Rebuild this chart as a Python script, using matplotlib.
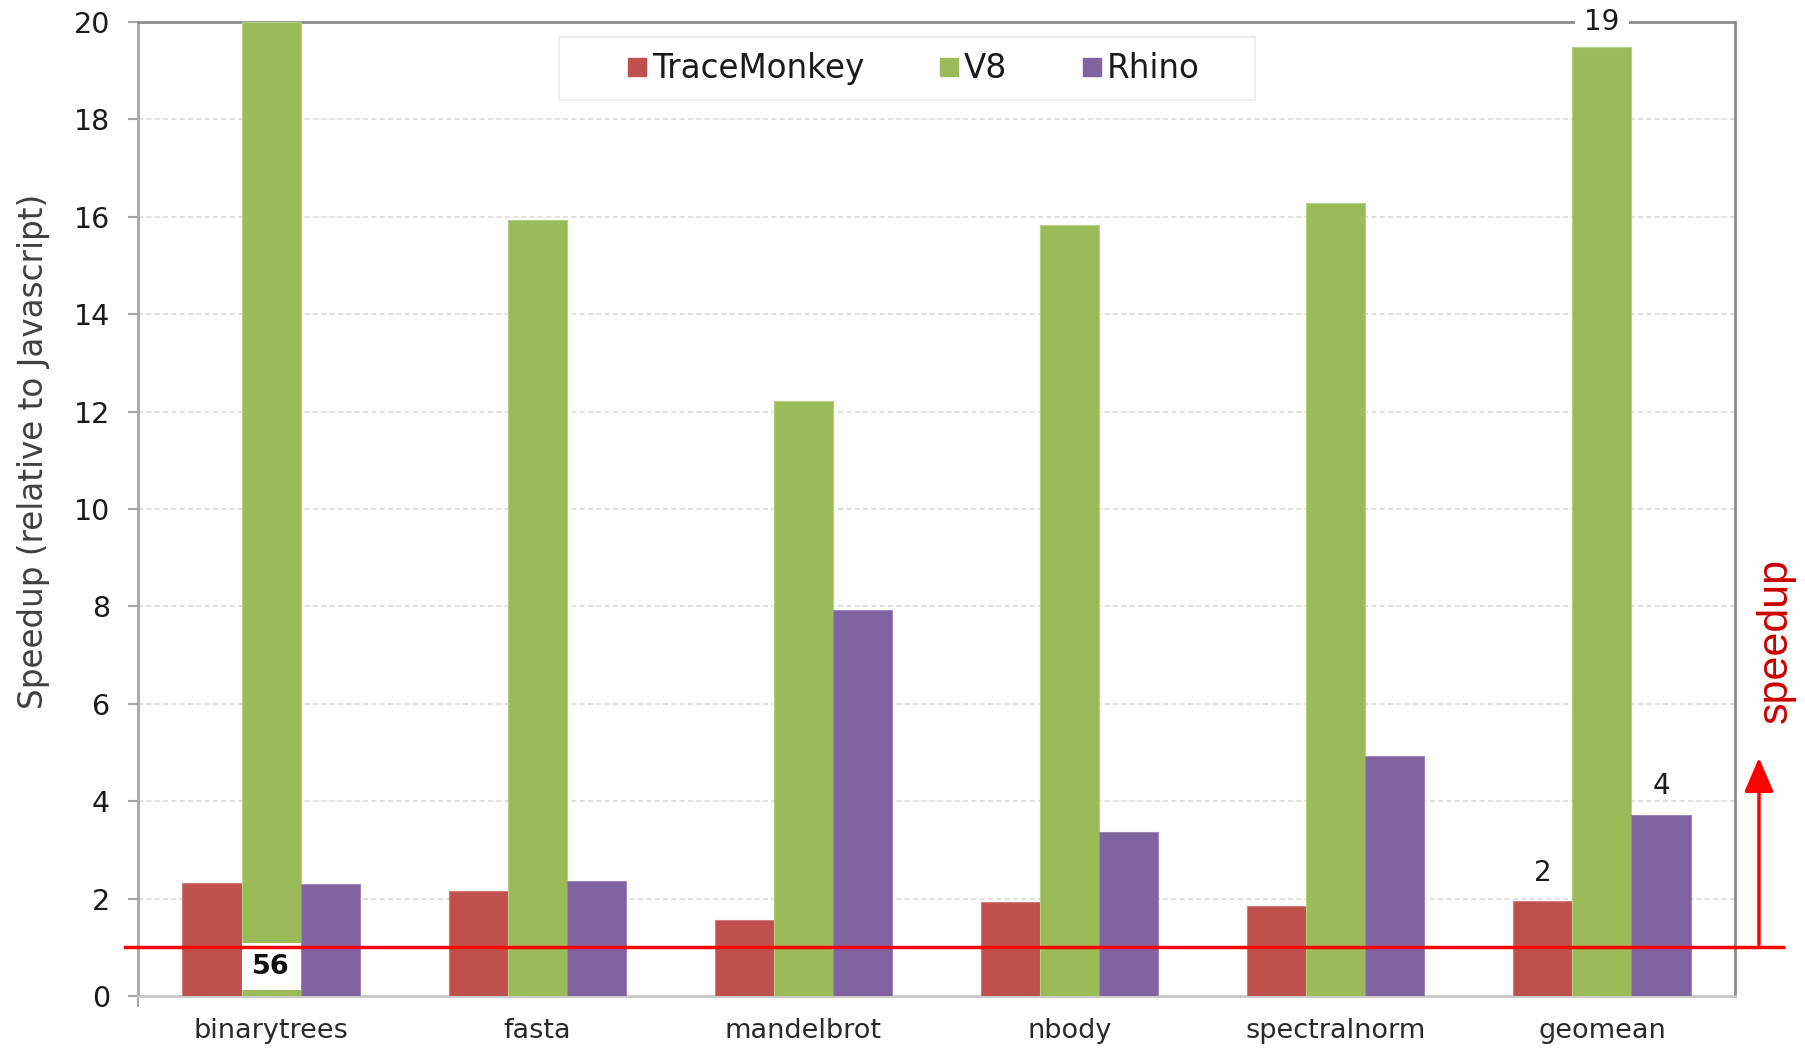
import matplotlib
matplotlib.use("Agg")
import matplotlib.pyplot as plt
import numpy as np
from matplotlib.patches import FancyArrowPatch, Rectangle
from matplotlib.lines import Line2D

# Benchmark speedups relative to plain Javascript
benchmarks = ["binarytrees", "fasta", "mandelbrot", "nbody", "spectralnorm", "geomean"]
tracemonkey = [2.32, 2.15, 1.56, 1.94, 1.84, 1.96]
v8 = [56.0, 15.93, 12.22, 15.84, 16.29, 19.48]
rhino = [2.29, 2.36, 7.92, 3.36, 4.92, 3.71]
series_names = ["TraceMonkey", "V8", "Rhino"]
yticks = [0, 2, 4, 6, 8, 10, 12, 14, 16, 18, 20]
baseline = 1.0

colors = ["#C0504D", "#9BBB59", "#8064A2"]
edge_colors = ["#D27B78", "#B5CF86", "#9C86B8"]

plt.rcParams["font.family"] = ["DejaVu Sans"]

fig = plt.figure(figsize=(18.06, 10.48), dpi=100)
ax = fig.add_axes([0.0764, 0.0496, 0.9607 - 0.0764, 0.979 - 0.0496])

ymax = 20
x = np.arange(len(benchmarks))
bw = 0.222
all_series = [tracemonkey, v8, rhino]
for i, (vals, c, ec) in enumerate(zip(all_series, colors, edge_colors)):
    shown = np.minimum(vals, ymax)
    ax.bar(x + (i - 1) * bw, shown, width=bw, color=c, edgecolor=ec,
           linewidth=0.8, zorder=3, label=series_names[i])

ax.set_xlim(-0.5, len(benchmarks) - 0.5)
ax.set_ylim(0, ymax)
ax.set_yticks(yticks)
ax.set_yticklabels([str(t) for t in yticks], fontsize=20.5, color="#1A1A1A")
ax.set_xticks(x)
ax.set_xticklabels(benchmarks, fontsize=19.5, color="#2A2A2A")
ax.tick_params(axis="x", length=0, pad=16)
ax.tick_params(axis="y", length=7, width=1.5, color="#A6A6A6", pad=13)
ax.set_xticks([-0.5], minor=True)
ax.tick_params(axis="x", which="minor", length=8, width=1.5, color="#A6A6A6")

ax.yaxis.grid(True, linestyle=(0, (3, 2)), color="#D9D9D9", linewidth=1.2, zorder=0)
ax.set_axisbelow(True)

for side in ["top", "right"]:
    ax.spines[side].set_color("#8C8C8C")
    ax.spines[side].set_linewidth(2)
ax.spines["left"].set_color("#A6A6A6")
ax.spines["left"].set_linewidth(2)
ax.spines["bottom"].set_color("#C8C8C8")
ax.spines["bottom"].set_linewidth(2)

ax.set_ylabel("Speedup (relative to Javascript)", fontsize=23.5, color="#404040")
ax.yaxis.set_label_coords(-0.055, 0.559)

# value labels
gi = len(benchmarks) - 1
ax.annotate(f"{round(tracemonkey[gi])}", (x[gi] - bw, tracemonkey[gi]),
            xytext=(0, 20), textcoords="offset points", ha="center", va="center",
            fontsize=20, color="#1A1A1A", zorder=5)
ax.annotate(f"{round(rhino[gi])}", (x[gi] + bw, rhino[gi]),
            xytext=(0, 21), textcoords="offset points", ha="center", va="center",
            fontsize=20, color="#1A1A1A", zorder=5)
ax.text(x[gi], ymax, f"{round(v8[gi])}", ha="center", va="center", fontsize=20,
        color="#1A1A1A", zorder=6, clip_on=False,
        bbox=dict(boxstyle="square,pad=0.35", facecolor="white", edgecolor="none"))
ax.text(x[0], 0.6, f"{round(v8[0])}", ha="center", va="center", fontsize=19.5,
        fontweight="bold", color="#111111", zorder=6,
        bbox=dict(boxstyle="square,pad=0.39", facecolor="white", edgecolor="none"))

# baseline at 1x and speedup arrow
ax.add_line(Line2D([-0.549, 5.68], [baseline, baseline], color="#FF0000",
                   linewidth=2.5, zorder=7, clip_on=False))
arrow = FancyArrowPatch((5.59, baseline), (5.59, 4.95),
                        arrowstyle="-|>,head_length=0.7,head_width=0.3",
                        mutation_scale=30, color="#FF0000", linewidth=2.5,
                        zorder=7, clip_on=False)
ax.add_patch(arrow)
ax.text(5.655, 7.29, "speedup", rotation=90, ha="center", va="center",
        fontsize=31, color="#CC0000", family=["Liberation Sans", "DejaVu Sans"],
        clip_on=False)

# legend box and entries
W, H = fig.get_size_inches() * fig.dpi
fig.patches.append(Rectangle((559 / W, 1 - 100 / H), (1255 - 559) / W, 63 / H,
                             transform=fig.transFigure, facecolor="white",
                             edgecolor="#EBEBEB", linewidth=1.2, zorder=8))
handles = [Line2D([], [], marker="s", linestyle="none", markersize=12.5,
                  markerfacecolor=c, markeredgecolor=c) for c in colors]
leg = fig.legend(handles, series_names, loc="center", ncol=3,
                 bbox_to_anchor=(0.505, 0.9346), fontsize=23.5, frameon=False,
                 handletextpad=0.05, columnspacing=2.2, borderpad=0.3,
                 handlelength=0.8, borderaxespad=0)
leg.set_zorder(9)
for t in leg.get_texts():
    t.set_color("#1A1A1A")

fig.savefig("out.png", dpi=100, facecolor="white")
